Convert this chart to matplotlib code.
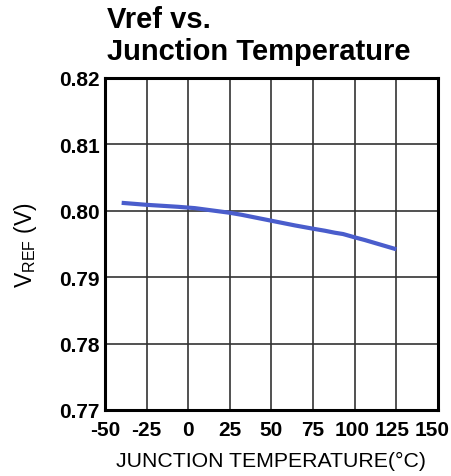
import matplotlib.pyplot as plt
import matplotlib.transforms as mtransforms

plt.rcParams['font.family'] = ['Liberation Sans', 'DejaVu Sans']
plt.rcParams['axes.unicode_minus'] = False

temp_c = [-40, -25, -6, 4, 16, 25, 32, 50, 64, 75, 82, 88, 93, 100, 106, 125]
vref = [0.8012, 0.8009, 0.8006, 0.8004, 0.8000, 0.7997, 0.7994, 0.7985,
        0.7978, 0.7973, 0.7970, 0.7967, 0.7965, 0.7960, 0.7956, 0.7942]

x_ticks = [-50, -25, 0, 25, 50, 75, 100, 125, 150]
y_ticks = [0.77, 0.78, 0.79, 0.80, 0.81, 0.82]

fig = plt.figure(figsize=(4.52, 4.77), dpi=100)
ax = fig.add_axes([105 / 452, 1 - 411 / 477, 333 / 452, 332 / 477])

ax.plot(temp_c, vref, color='#4a5dcc', linewidth=3.0, solid_capstyle='butt')

ax.set_xlim(-50, 150)
ax.set_ylim(0.77, 0.82)
ax.set_xticks(x_ticks)
ax.set_yticks(y_ticks)
ax.set_yticklabels([f"{v:.2f}" for v in y_ticks])
ax.grid(True, color='#333333', linewidth=1.2)
ax.tick_params(length=0, labelsize=15)
ax.tick_params(axis='x', pad=7)
ax.tick_params(axis='y', pad=4)
for lab in ax.get_xticklabels() + ax.get_yticklabels():
    lab.set_fontweight('bold')
for s in ax.spines.values():
    s.set_linewidth(2.2)
    s.set_color('black')

# nudge the right-hand labels left a bit, like the reference
xlabs = ax.get_xticklabels()
for lab, dx in zip(xlabs[-3:], [-3, -4, -6]):
    lab.set_transform(lab.get_transform() +
                      mtransforms.ScaledTranslation(dx / 100, 0, fig.dpi_scale_trans))

ax.set_xlabel("JUNCTION TEMPERATURE(°C)", fontsize=15.3, labelpad=9)
ax.set_ylabel(r"V$_{\mathregular{REF}}$ (V)", fontsize=16.5, labelpad=14)

fig.text(107 / 452, 1 - 6 / 477, "Vref vs.\nJunction Temperature", fontsize=21,
         fontweight='bold', va='top', ha='left', linespacing=1.2)

fig.savefig("out.png", dpi=100)
